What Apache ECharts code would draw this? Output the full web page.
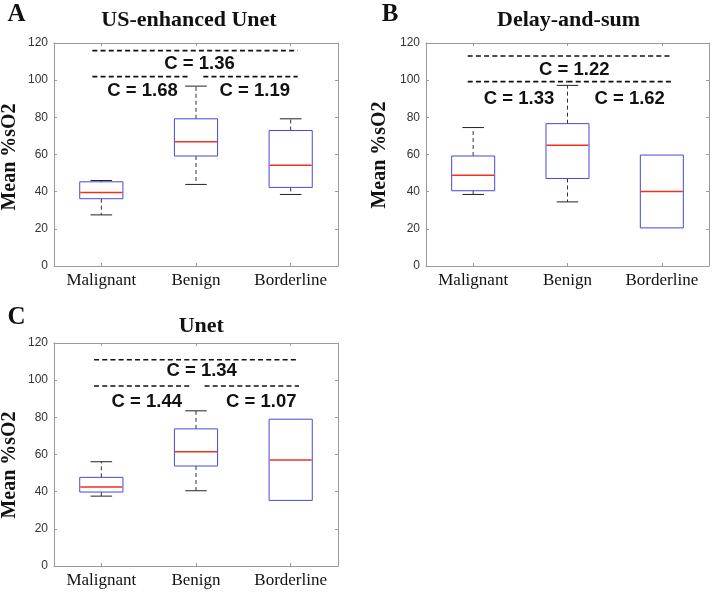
<!DOCTYPE html>
<html>
<head>
<meta charset="utf-8">
<script src="https://cdn.jsdelivr.net/npm/echarts@6/dist/echarts.min.js"></script>
<style>html,body{margin:0;padding:0;background:#fff}#chart{width:712px;height:593px}</style>
</head>
<body>
<div id="chart"></div>
<script>
// ---- data ----
const categories = ['Malignant', 'Benign', 'Borderline'];
const yTicks = [0, 20, 40, 60, 80, 100, 120];
// box stats per category: [lower whisker, Q1, median, Q3, upper whisker]
const usUnetBoxes = [[27.5, 36.2, 39.6, 45.3, 46.0], [43.9, 59.2, 66.9, 79.2, 96.8], [38.5, 42.3, 54.2, 72.9, 79.2]];
const dasBoxes    = [[38.5, 40.5, 48.8, 59.2, 74.5], [34.5, 47.1, 65.0, 76.6, 97.2], [20.5, 20.5, 40.1, 59.7, 59.7]];
const unetBoxes   = [[37.6, 39.8, 42.5, 47.7, 56.1], [40.5, 53.8, 61.5, 73.8, 83.5], [35.3, 35.3, 57.0, 79.0, 79.0]];
// C values: [all groups, Malignant vs Benign, Benign vs Borderline]
const usUnetC = ['1.36', '1.68', '1.19'];
const dasC    = ['1.22', '1.33', '1.62'];
const unetC   = ['1.34', '1.44', '1.07'];
// bracket levels (y values): [top line, pair line]
const usUnetLevels = [115.9, 101.9];
const dasLevels    = [113.0, 99.2];
const unetLevels   = [111.0, 96.9];
const titles = ['US-enhanced Unet', 'Delay-and-sum', 'Unet'];
const panelLetters = ['A', 'B', 'C'];
const yName = 'Mean %sO2';

// ---- layout ----
const panels = [
  { grid: { left: 54, top: 43, width: 284, height: 223 }, boxes: usUnetBoxes, c: usUnetC, lv: usUnetLevels,
    span: [-0.095, 2.074], gap: [0.923, 1.077], lblX: [1.037, 0.435, 1.621], lblY: [108.9, 94.3],
    title: [189, 20], letter: [16.5, 14.5], yl: [9.5, 157] },
  { grid: { left: 426, top: 43, width: 283, height: 223 }, boxes: dasBoxes, c: dasC, lv: dasLevels,
    span: [-0.058, 2.108], gap: [1.0, 1.0], lblX: [1.072, 0.486, 1.659], lblY: [105.6, 90.0],
    title: [568.5, 20.5], letter: [390, 14.2], yl: [379.7, 155] },
  { grid: { left: 54, top: 343, width: 284, height: 223 }, boxes: unetBoxes, c: unetC, lv: unetLevels,
    span: [-0.077, 2.088], gap: [0.93, 1.09], lblX: [1.06, 0.48, 1.69], lblY: [104.8, 88.3],
    title: [201.3, 326], letter: [16.5, 317.5], yl: [9.7, 465] }
];

const AXIS_COLOR = '#9a9a9a';
const SERIF = '"Liberation Serif", "Times New Roman", serif';
const SANS = '"Liberation Sans", Arial, sans-serif';

const option = {
  backgroundColor: '#fff',
  animation: false,
  grid: [], xAxis: [], yAxis: [], series: [], graphic: []
};

panels.forEach((p, i) => {
  option.grid.push(Object.assign({ show: false, containLabel: false }, p.grid));
  // bottom category axis
  option.xAxis.push({
    type: 'category', gridIndex: i, data: categories, position: 'bottom',
    axisLine: { show: true, onZero: false, lineStyle: { color: AXIS_COLOR, width: 1 } },
    axisTick: { show: true, inside: true, alignWithLabel: true, interval: 0, length: 3, lineStyle: { color: AXIS_COLOR } },
    axisLabel: { show: true, interval: 0, margin: 6, color: '#111', fontFamily: SERIF, fontSize: 17 },
    splitLine: { show: false }
  });
  // top mirrored axis
  option.xAxis.push({
    type: 'category', gridIndex: i, data: categories, position: 'top',
    axisLine: { show: true, onZero: false, lineStyle: { color: AXIS_COLOR, width: 1 } },
    axisTick: { show: true, inside: true, alignWithLabel: true, interval: 0, length: 3, lineStyle: { color: AXIS_COLOR } },
    axisLabel: { show: false, interval: 0 }, splitLine: { show: false }
  });
  // hidden value axis for annotations
  option.xAxis.push({
    type: 'value', gridIndex: i, min: -0.5, max: 2.5, show: false,
    axisLine: { onZero: false }
  });
  option.yAxis.push({
    type: 'value', gridIndex: i, min: yTicks[0], max: yTicks[yTicks.length - 1], interval: 20, position: 'left',
    axisLine: { show: true, onZero: false, lineStyle: { color: AXIS_COLOR, width: 1 } },
    axisTick: { show: true, inside: true, length: 3, lineStyle: { color: AXIS_COLOR } },
    axisLabel: { show: true, margin: 6, color: '#333', fontFamily: SANS, fontSize: 12 },
    splitLine: { show: false }
  });
  option.yAxis.push({
    type: 'value', gridIndex: i, min: yTicks[0], max: yTicks[yTicks.length - 1], interval: 20, position: 'right',
    axisLine: { show: true, onZero: false, lineStyle: { color: AXIS_COLOR, width: 1 } },
    axisTick: { show: true, inside: true, length: 3, lineStyle: { color: AXIS_COLOR } },
    axisLabel: { show: false }, splitLine: { show: false }
  });

  // box plots
  option.series.push({
    type: 'custom', xAxisIndex: 3 * i, yAxisIndex: 2 * i,
    data: p.boxes.map((b, k) => [k].concat(b)),
    encode: { x: 0, y: [1, 2, 3, 4, 5] },
    renderItem: function (params, api) {
      const k = api.value(0);
      const lo = api.coord([k, api.value(1)]);
      const q1 = api.coord([k, api.value(2)]);
      const md = api.coord([k, api.value(3)]);
      const q3 = api.coord([k, api.value(4)]);
      const hi = api.coord([k, api.value(5)]);
      const band = api.size([1, 0])[0];
      const hw = band * 0.228;
      const cw = hw * 0.5;
      const x = lo[0];
      const children = [];
      const dash = { stroke: '#333', lineWidth: 1, lineDash: [4, 3] };
      const cap = { stroke: '#222', lineWidth: 1 };
      if (Math.abs(hi[1] - q3[1]) > 0.5) {
        children.push({ type: 'line', shape: { x1: x, y1: q3[1], x2: x, y2: hi[1] }, style: dash });
        children.push({ type: 'line', shape: { x1: x - cw, y1: hi[1], x2: x + cw, y2: hi[1] }, style: cap });
      }
      if (Math.abs(lo[1] - q1[1]) > 0.5) {
        children.push({ type: 'line', shape: { x1: x, y1: q1[1], x2: x, y2: lo[1] }, style: dash });
        children.push({ type: 'line', shape: { x1: x - cw, y1: lo[1], x2: x + cw, y2: lo[1] }, style: cap });
      }
      children.push({ type: 'rect', shape: { x: x - hw, y: q3[1], width: 2 * hw, height: q1[1] - q3[1] },
        style: { fill: 'none', stroke: '#4848d8', lineWidth: 1 } });
      children.push({ type: 'line', z2: 10, shape: { x1: x - hw + 0.5, y1: md[1], x2: x + hw - 0.5, y2: md[1] },
        style: { stroke: '#f0301f', lineWidth: 1.5 } });
      return { type: 'group', children: children };
    },
    silent: true, z: 3
  });

  // bracket lines
  const segs = [
    [p.span[0], p.span[1], p.lv[0]],
    [p.span[0], p.gap[0], p.lv[1]],
    [p.gap[1], p.span[1], p.lv[1]]
  ];
  option.series.push({
    type: 'custom', xAxisIndex: 3 * i + 2, yAxisIndex: 2 * i,
    data: segs, encode: { x: [0, 1], y: 2 },
    renderItem: function (params, api) {
      const a = api.coord([api.value(0), api.value(2)]);
      const b = api.coord([api.value(1), api.value(2)]);
      return { type: 'line', shape: { x1: a[0], y1: a[1], x2: b[0], y2: b[1] },
        style: { stroke: '#111', lineWidth: 1.6, lineDash: [5, 3.2] } };
    },
    silent: true, z: 4
  });

  // C labels
  const lbl = [
    [p.lblX[0], p.lblY[0], 'C = ' + p.c[0]],
    [p.lblX[1], p.lblY[1], 'C = ' + p.c[1]],
    [p.lblX[2], p.lblY[1], 'C = ' + p.c[2]]
  ];
  option.series.push({
    type: 'custom', xAxisIndex: 3 * i + 2, yAxisIndex: 2 * i,
    data: lbl, encode: { x: 0, y: 1 },
    renderItem: function (params, api) {
      const pt = api.coord([api.value(0), api.value(1)]);
      return { type: 'text', style: { text: lbl[params.dataIndex][2], x: pt[0], y: pt[1],
        align: 'center', verticalAlign: 'middle', fill: '#111',
        fontFamily: SANS, fontWeight: 'bold', fontSize: 18.5 } };
    },
    silent: true, z: 5
  });

  // titles, panel letters, y-axis names
  option.graphic.push({ type: 'text', x: p.title[0], y: p.title[1],
    style: { text: titles[i], align: 'center', verticalAlign: 'middle', fill: '#111',
      fontFamily: SERIF, fontWeight: 'bold', fontSize: 22 } });
  option.graphic.push({ type: 'text', x: p.letter[0], y: p.letter[1],
    style: { text: panelLetters[i], align: 'center', verticalAlign: 'middle', fill: '#111',
      fontFamily: SERIF, fontWeight: 'bold', fontSize: 25 } });
  option.graphic.push({ type: 'text', x: p.yl[0], y: p.yl[1], rotation: Math.PI / 2,
    style: { text: yName, align: 'center', verticalAlign: 'middle', fill: '#111',
      fontFamily: SERIF, fontWeight: 'bold', fontSize: 20 } });
});

const chart = echarts.init(document.getElementById('chart'), null, { renderer: 'canvas', width: 712, height: 593 });
chart.setOption(option);
</script>
</body>
</html>
